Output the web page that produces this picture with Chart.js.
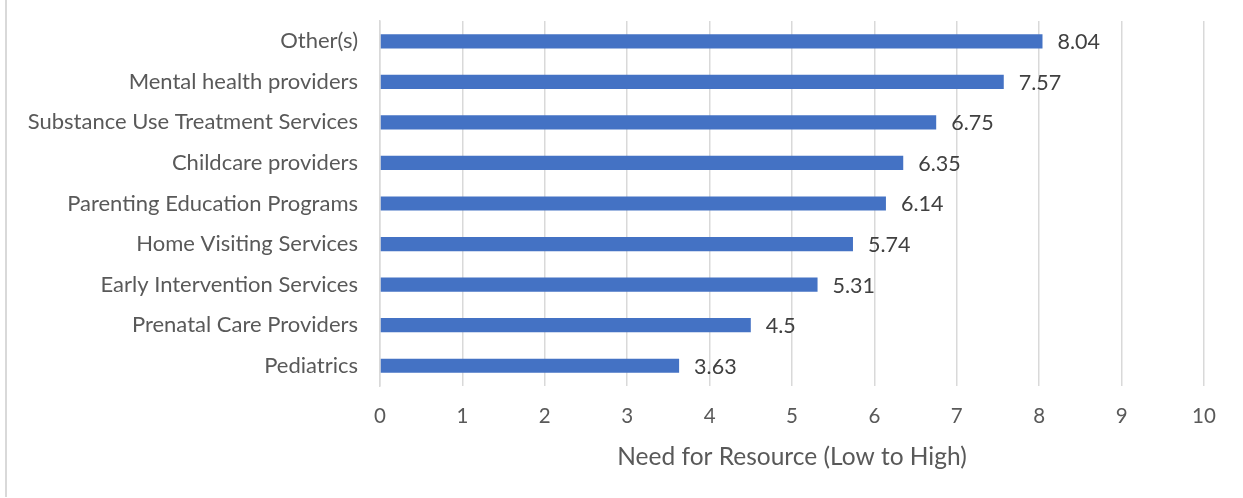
<!DOCTYPE html>
<html>
<head>
<meta charset="utf-8">
<script src="https://cdn.jsdelivr.net/npm/chart.js@4"></script>
<style>
  html, body { margin: 0; padding: 0; background: #fff; }
  #wrap { position: relative; width: 1243px; height: 498px; }
  #edge { position: absolute; left: 5px; top: 0; width: 2px; height: 497px; background: #d9d9d9; }
  canvas { position: absolute; left: 0; top: 0; }
</style>
</head>
<body>
<div id="wrap">
  <div id="edge"></div>
  <canvas id="c" width="1243" height="498"></canvas>
</div>
<script>
const categories = [
  "Other(s)",
  "Mental health providers",
  "Substance Use Treatment Services",
  "Childcare providers",
  "Parenting Education Programs",
  "Home Visiting Services",
  "Early Intervention Services",
  "Prenatal Care Providers",
  "Pediatrics"
];
const needScores = [8.04, 7.57, 6.75, 6.35, 6.14, 5.74, 5.31, 4.5, 3.63];
const axisTitle = "Need for Resource (Low to High)";

const FONT = "Lato, 'Open Sans', sans-serif";

// Writes each bar's value just past its end
const valueLabels = {
  id: "valueLabels",
  afterDatasetsDraw(chart) {
    const ctx = chart.ctx;
    const meta = chart.getDatasetMeta(0);
    ctx.save();
    ctx.font = "21.5px " + FONT;
    ctx.fillStyle = "#404040";
    ctx.textAlign = "left";
    ctx.textBaseline = "middle";
    meta.data.forEach((bar, i) => {
      ctx.fillText(String(needScores[i]), bar.x + 15, bar.y + 1);
    });
    ctx.restore();
  }
};

new Chart(document.getElementById("c"), {
  type: "bar",
  data: {
    labels: categories,
    datasets: [{
      data: needScores,
      backgroundColor: "#4472C4",
      borderWidth: 0,
      categoryPercentage: 1,
      barPercentage: 0.35
    }]
  },
  options: {
    indexAxis: "y",
    responsive: false,
    animation: false,
    layout: { padding: { top: 21, right: 39, left: 0, bottom: 26 } },
    plugins: { legend: { display: false }, tooltip: { enabled: false } },
    scales: {
      x: {
        min: 0,
        max: 10,
        ticks: { stepSize: 1, color: "#595959", font: { family: FONT, size: 20.5 }, padding: 18 },
        grid: { color: "#d9d9d9", lineWidth: 1.5, drawTicks: false },
        border: { display: false },
        title: {
          display: true,
          text: axisTitle,
          color: "#595959",
          font: { family: FONT, size: 24.5 },
          padding: { top: 10, bottom: 0 }
        },
        afterFit(scale) { scale.height = 86; }
      },
      y: {
        ticks: { color: "#595959", font: { family: FONT, size: 22 }, padding: 22 },
        grid: { display: false, drawTicks: false },
        border: { display: true, color: "#d9d9d9", width: 1.5 },
        afterFit(scale) {
          scale.width = 380;
          scale.paddingTop = 0;
          scale.paddingBottom = 0;
        }
      }
    }
  },
  plugins: [valueLabels]
});
</script>
</body>
</html>
